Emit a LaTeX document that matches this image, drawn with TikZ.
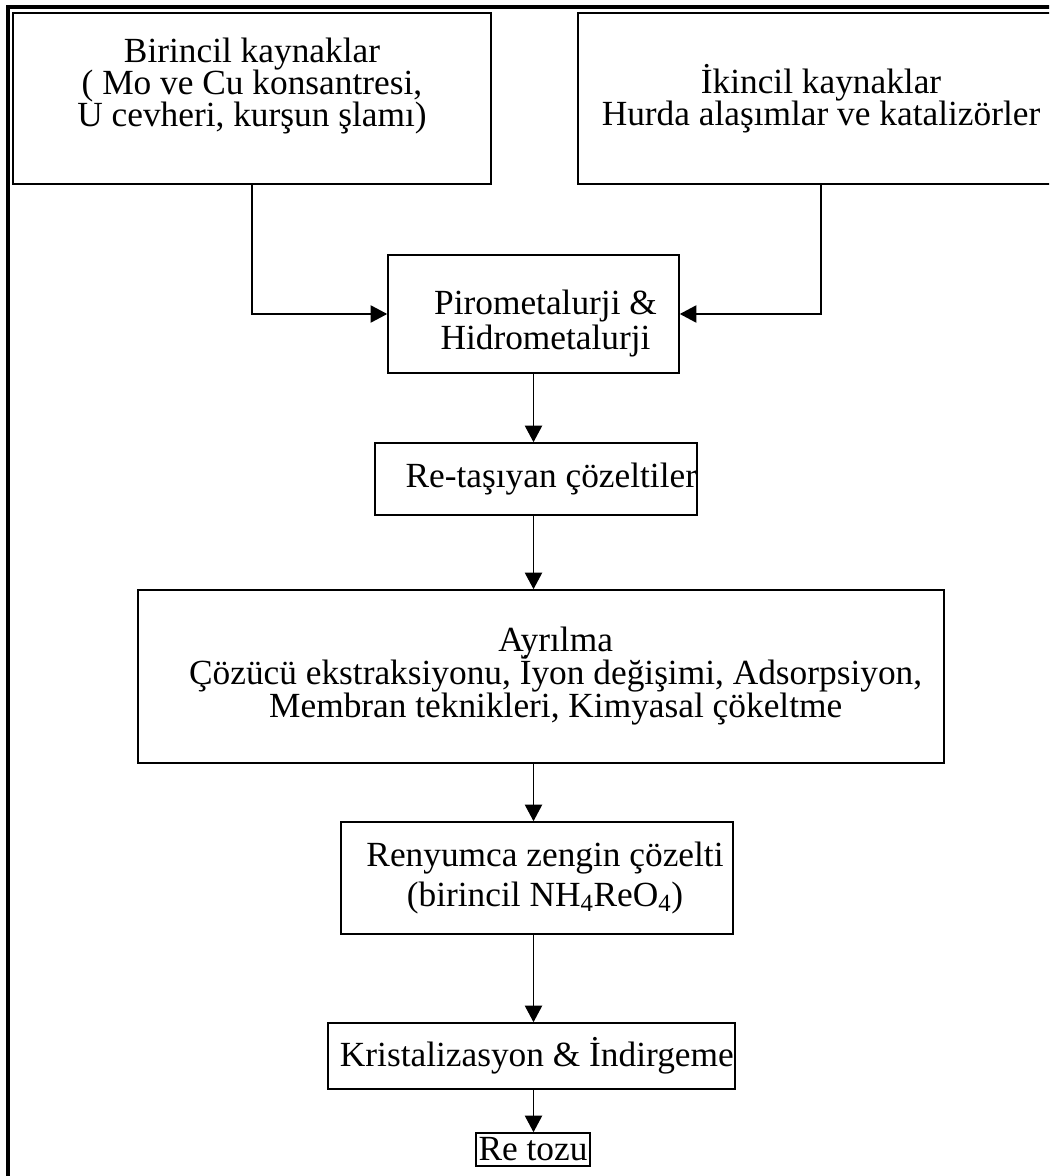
\documentclass[tikz,border=0pt]{standalone}
\usepackage{fontspec}
\setmainfont{Liberation Serif}
\usetikzlibrary{arrows.meta}

% font of the boxes, with a fixed distance between the lines
\newcommand{\kutufont}[1]{\fontsize{26.5}{#1}\selectfont\lineskiplimit=-100pt}

\tikzset{
    kutu/.style={draw, line width=1.2pt, inner sep=0pt, align=center,
        font=\kutufont{24pt}},
    ok/.style={-{Triangle[length=12.5pt,width=13pt]}, line width=1.1pt}
}

\begin{document}
\begin{tikzpicture}[x=0.75pt, y=-0.75pt]
    % size of the page
    \useasboundingbox (0,0) rectangle (1049,1176);

    % the outer frame, cut at the right and at the bottom
    \begin{scope}
        \clip (0,0) rectangle (1049,1176);
        \draw[line width=3pt] (8,7.5) rectangle (1120,1260);
        \node[kutu, minimum width=364.5pt, minimum height=128.25pt] (ikincil) at (821,98.5)
            {İkincil kaynaklar\\Hurda alaşımlar ve katalizörler\\[-18pt]\mbox{}};
    \end{scope}

    % the sources
    \node[kutu, minimum width=358.5pt, minimum height=128.25pt] (birincil) at (252,98.5)
        {Birincil kaynaklar\\( Mo ve Cu konsantresi,\\U cevheri, kurşun şlamı)\\ \mbox{}};

    % the steps
    \node[kutu, minimum width=218.25pt, minimum height=88.5pt,
          font=\kutufont{26.25pt}] (piro) at (533.5,314)
        {\mbox{}\\[6pt]\hspace*{18pt}Pirometalurji \&\\\hspace*{18pt}Hidrometalurji};
    \node[kutu, text width=241.5pt, align=flush right, minimum height=54pt] (tasiyan) at (536,479)
        {Re-taşıyan çözeltiler};
    \node[kutu, minimum width=604.5pt, minimum height=129.75pt,
          font=\kutufont{24.75pt}] (ayrilma) at (541,676.5)
        {\hspace*{22pt}Ayrılma\\\hspace*{22pt}Çözücü ekstraksiyonu, İyon değişimi, Adsorpsiyon,\\\hspace*{22pt}Membran teknikleri, Kimyasal çökeltme};
    \node[kutu, minimum width=294pt, minimum height=84pt, font=\kutufont{30pt}] (renyum) at (537,878)
        {\hspace*{12pt}Renyumca zengin çözelti\\\hspace*{12pt}(birincil NH\textsubscript{4}ReO\textsubscript{4})};
    \node[kutu, minimum width=305.25pt, minimum height=49.5pt] (kristal) at (531.5,1056)
        {\hspace*{8pt}Kristalizasyon \& İndirgeme};
    \node[kutu, minimum width=85.5pt, minimum height=24.75pt] (tozu) at (533,1149.5)
        {Re tozu};

    % the arrows
    \draw[ok] (birincil.south) |- (piro.west);
    \draw[ok] (ikincil.south) |- (piro.east);
    \draw[ok] (piro.south) -- (piro.south |- tasiyan.north);
    \draw[ok] (piro.south |- tasiyan.south) -- (piro.south |- ayrilma.north);
    \draw[ok] (piro.south |- ayrilma.south) -- (piro.south |- renyum.north);
    \draw[ok] (piro.south |- renyum.south) -- (piro.south |- kristal.north);
    \draw[ok] (piro.south |- kristal.south) -- (piro.south |- tozu.north);
\end{tikzpicture}
\end{document}
